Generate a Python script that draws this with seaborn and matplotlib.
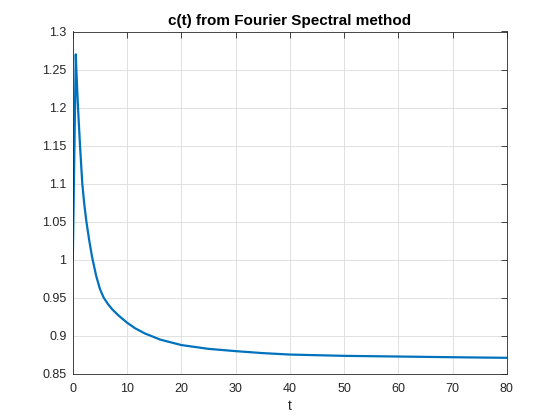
import numpy as np
import pandas as pd
import matplotlib
matplotlib.use("Agg")
import matplotlib.pyplot as plt
import seaborn as sns
from matplotlib.ticker import FuncFormatter

# Data
t_values = [0, 0.55, 0.65, 0.96, 1.33, 1.75, 2.1, 2.49, 2.99, 3.54, 4.3, 5.0, 5.7,
            6.5, 7.3, 8.5, 10, 11.5, 13.3, 16.1, 20, 25, 30, 35, 40, 50, 60, 70, 80]
c_values = [1.0, 1.27, 1.25, 1.20, 1.15, 1.10, 1.074, 1.051, 1.027, 1.004, 0.979, 0.9615, 0.950,
            0.9415, 0.9345, 0.9262, 0.9172, 0.9098, 0.9030, 0.8950, 0.8878, 0.8828, 0.8798, 0.8772, 0.8753,
            0.8736, 0.8727, 0.8718, 0.8710]
x_ticks = [0, 10, 20, 30, 40, 50, 60, 70, 80]
y_ticks = [0.85, 0.9, 0.95, 1.0, 1.05, 1.1, 1.15, 1.2, 1.25, 1.3]

df = pd.DataFrame({"t": t_values, "c": c_values})

sns.set_style("white")
plt.rcParams["font.family"] = ["Liberation Sans", "DejaVu Sans"]

fig = plt.figure(figsize=(5.6, 4.2), dpi=100)
ax = fig.add_axes([0.13, 0.11, 0.775, 0.815])

sns.lineplot(data=df, x="t", y="c", ax=ax, color="#0072BD", linewidth=1.6, sort=False)

ax.set_xlim(0, 80)
ax.set_ylim(0.85, 1.3)
ax.set_xticks(x_ticks)
ax.set_yticks(y_ticks)
ax.yaxis.set_major_formatter(FuncFormatter(lambda v, p: f"{v:g}"))
ax.grid(True, color="#dcdcdc", linewidth=0.6)
ax.set_axisbelow(True)

for s in ax.spines.values():
    s.set_color("#262626")
    s.set_linewidth(0.6)

ax.tick_params(axis="both", which="both", direction="in", length=4, width=0.6,
               colors="#262626", labelsize=9, top=True, right=True,
               labeltop=False, labelright=False)
ax.tick_params(axis="x", pad=6.5)
ax.tick_params(axis="y", pad=4.5)

ax.set_xlabel("t", fontsize=10, color="#262626", labelpad=3)
ax.set_ylabel("")
ax.set_title("c(t) from Fourier Spectral method", fontsize=11, fontweight="bold", color="black", pad=5)

fig.savefig("out.png", dpi=100)
